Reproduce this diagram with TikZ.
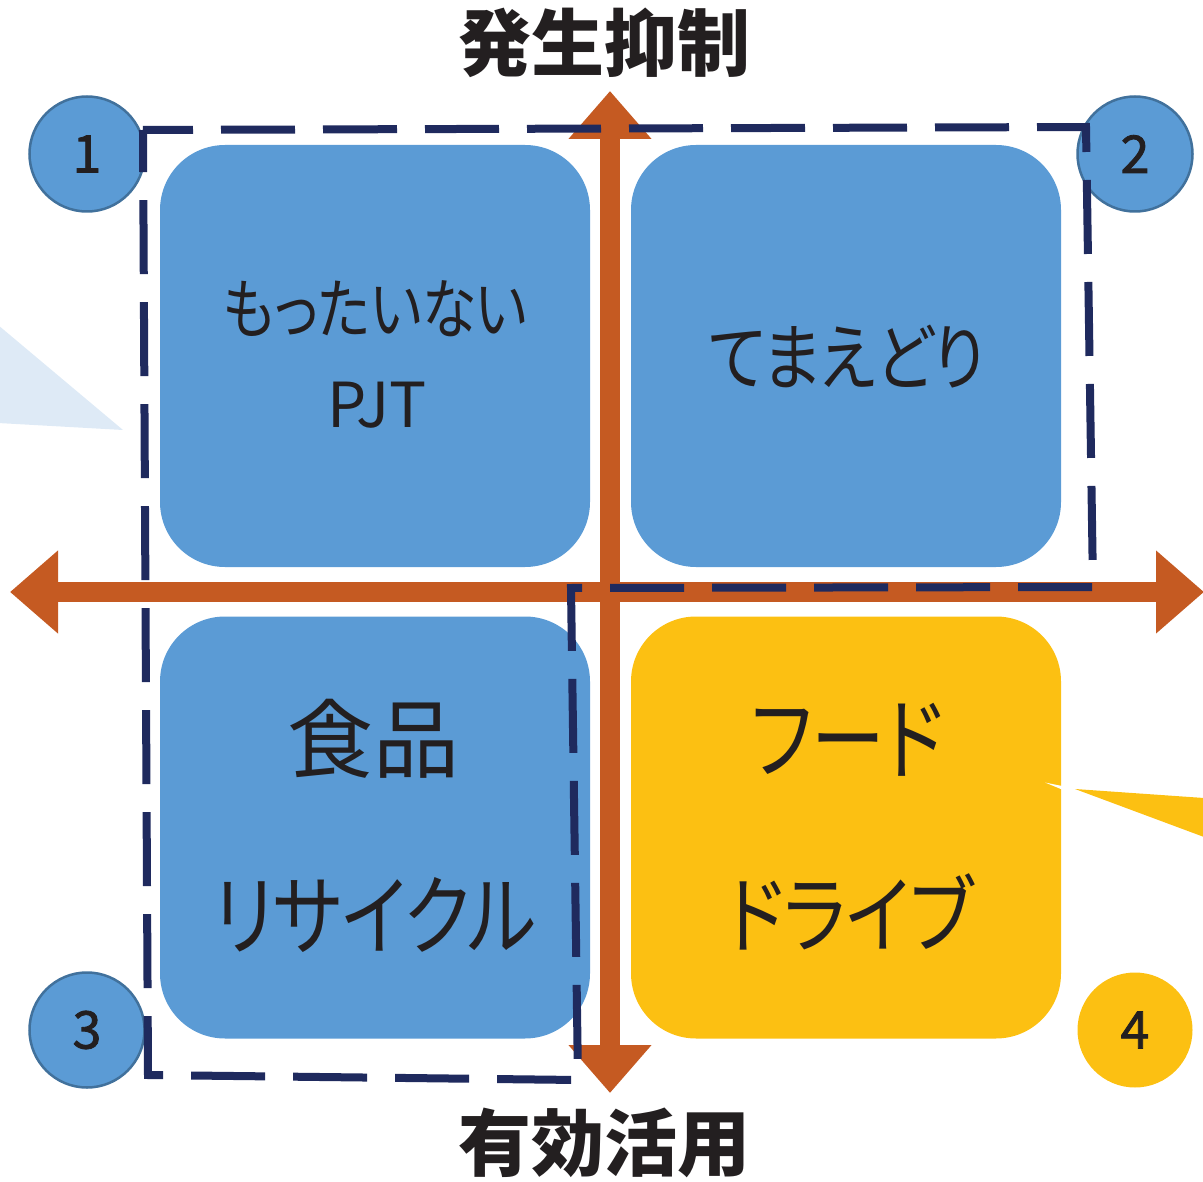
\documentclass[tikz,border=0pt]{standalone}
\usepackage{graphicx}
\usepackage{fontspec}
\newfontfamily\jp[RawFeature=+palt]{Noto Sans CJK JP}
\newfontfamily\jpn{Noto Sans CJK JP}
\newfontfamily\jpm[FakeBold=1.6]{Noto Sans CJK JP}
\usetikzlibrary{arrows.meta}
\definecolor{boxblue}{HTML}{5B9BD5}
\definecolor{boxyellow}{HTML}{FCC012}
\definecolor{axisorange}{HTML}{C55A22}
\definecolor{dashnavy}{HTML}{1F2A5E}
\definecolor{circborder}{HTML}{41719C}
\definecolor{lightblue}{HTML}{DEEAF6}
\definecolor{txt}{HTML}{231F20}
\newcommand{\cond}[2]{\scalebox{#1}[1]{#2}}
\tikzset{
  qbox/.style={rounded corners=65pt, minimum width=430pt, minimum height=422pt, inner sep=0pt, draw=none},
  circ/.style={circle, minimum size=115pt, inner sep=0pt, text=txt, font=\jpm\fontsize{52}{54}\selectfont},
  lbl/.style={inner sep=0pt, text=txt},
  title/.style={inner sep=0pt, text=txt, font=\jpn\bfseries\fontsize{73}{76}\selectfont},
  axis/.style={draw=axisorange, line width=20pt, arrows={Triangle[length=48pt,width=80pt,fill=axisorange]-Triangle[length=48pt,width=80pt,fill=axisorange]}},
  dashbox/.style={draw=dashnavy, line width=8pt, dash pattern=on 74pt off 28pt, dash phase=24pt, line join=miter}
}
\begin{document}
\begin{tikzpicture}[x=1pt,y=-1pt]
\useasboundingbox (0,0) rectangle (1203,1182);
% callout wedges
\fill[lightblue] (-2,325) -- (123,430) -- (-2,423) -- cycle;
\fill[boxyellow] (1075,789) -- (1204,798) -- (1204,837) -- cycle;
% quadrant boxes
\node[qbox, fill=boxblue] (q1) at (375,356) {};
\node[qbox, fill=boxblue] (q2) at (846,356) {};
\node[qbox, fill=boxblue] (q3) at (375,827.5) {};
\node[qbox, fill=boxyellow] (q4) at (846,827.5) {};
\fill[white] (1045,782.5) -- (1062,786) -- (1062,789.5) -- cycle;
% texts
\node[lbl, font=\jp\fontsize{66}{68}\selectfont] (t1a) at (375,309) {\cond{0.83}{もったいない}};
\node[lbl, font=\jp\fontsize{62}{64}\selectfont] (t1b) at (377,405) {PJT};
\node[lbl, font=\jp\fontsize{73}{75}\selectfont] (t2) at (847,357) {\cond{0.85}{てまえどり}};
\node[lbl, font=\jp\fontsize{86}{88}\selectfont] (t3a) at (373,739) {食品};
\node[lbl, font=\jp\fontsize{88}{90}\selectfont] (t3b) at (375,915) {\cond{0.83}{リサイクル}};
\node[lbl, font=\jp\fontsize{90}{92}\selectfont] (t4a) at (847,740) {\cond{0.82}{フード}};
\node[lbl, font=\jp\fontsize{85}{87}\selectfont] (t4b) at (850,912) {\cond{0.85}{ドライブ}};
% numbered circles
\node[circ, fill=boxblue, draw=circborder, line width=2.5pt] (c1) at (87,154) {1};
\node[circ, fill=boxblue, draw=circborder, line width=2.5pt] (c2) at (1135,154) {2};
\node[circ, fill=boxblue, draw=circborder, line width=2.5pt] (c3) at (87,1030) {3};
\node[circ, fill=boxyellow] (c4) at (1135,1030) {4};
% axes
\coordinate (vt) at (610,91);
\coordinate (vb) at (610,1093);
\coordinate (hl) at (10,592);
\coordinate (hr) at (1204,592);
\draw[axis] (vt) -- (vb);
\draw[axis] (hl) -- (hr);
% dashed grouping outline
\coordinate (d1) at (143,130);
\coordinate (d2) at (1086,127);
\coordinate (d3) at (1093,587);
\coordinate (d4) at (571,588);
\coordinate (d5) at (578,1080);
\coordinate (d6) at (148,1075);
\draw[dashbox] (d1) -- (d2) -- (d3) -- (d4) -- (d5) -- (d6) -- cycle;
% axis titles
\node[title] (top) at (604,43) {発生抑制};
\node[title] (bottom) at (604,1143) {有効活用};
\end{tikzpicture}
\end{document}
